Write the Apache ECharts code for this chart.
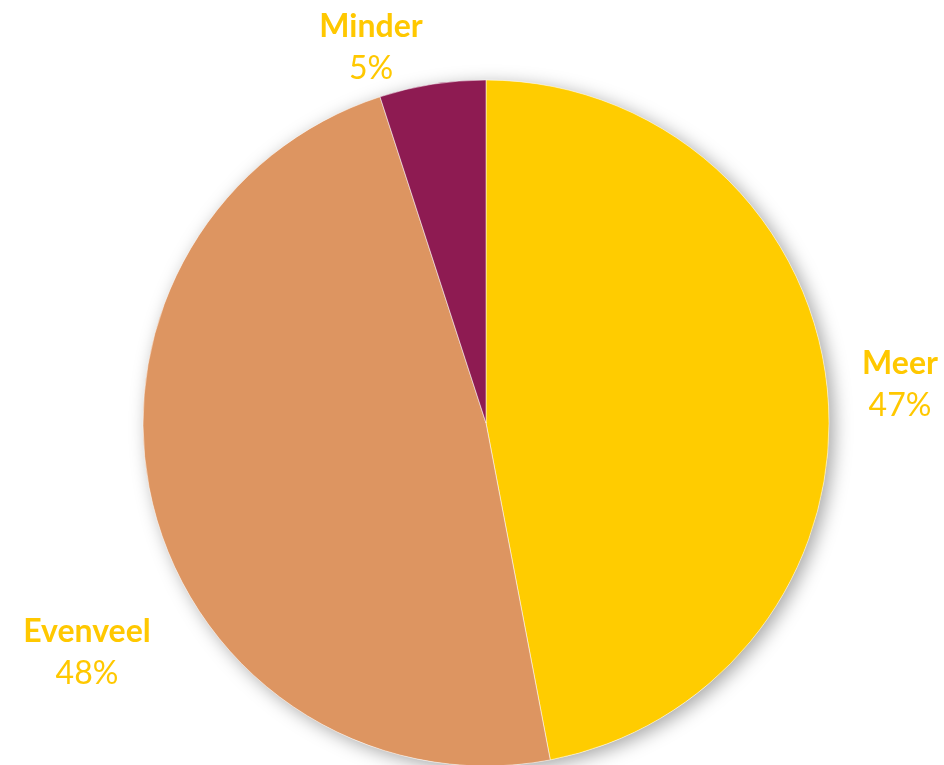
<!DOCTYPE html>
<html>
<head>
<meta charset="utf-8">
<script src="https://cdn.jsdelivr.net/npm/echarts@6/dist/echarts.min.js"></script>
<style>
  html, body { margin: 0; padding: 0; background: #fff; }
  #main { width: 944px; height: 765px; }
</style>
</head>
<body>
<div id="main"></div>
<script>
// categorieen en waarden
var categories = ['Meer', 'Evenveel', 'Minder'];
var values = [47, 48, 5];
var colors = ['#FFCC00', '#DD9561', '#8E1B52'];

var labelColor = '#FFC800';
var fontName = 'Lato';

// plek van de labels (midden van het tekstblok), zoals in Excel
var labelSpots = [[900, 385], [87, 653], [371, 48]];

var myChart = echarts.init(document.getElementById('main'));

var pieData = [];
for (var i = 0; i < categories.length; i++) {
    pieData.push({
        name: categories[i],
        value: values[i],
        itemStyle: { color: colors[i] }
    });
}

// totaal voor de schaduw-cirkel achter de taart
var total = 0;
for (var j = 0; j < values.length; j++) total += values[j];

var option = {
    animation: false,
    backgroundColor: '#fff',
    series: [
        {
            // schaduw
            type: 'pie',
            silent: true,
            center: [486, 423],
            radius: 343,
            z: 1,
            label: { show: false },
            labelLine: { show: false },
            data: [{ value: total, name: 'schaduw' }],
            itemStyle: {
                color: '#fff',
                shadowBlur: 18,
                shadowOffsetX: 5,
                shadowOffsetY: 4,
                shadowColor: 'rgba(0,0,0,0.35)'
            }
        },
        {
            type: 'pie',
            center: [486, 423],
            radius: 343,
            startAngle: 90,
            clockwise: true,
            z: 2,
            percentPrecision: 0,
            itemStyle: { borderColor: '#fff', borderWidth: 0.5 },
            label: {
                position: 'outside',
                overflow: 'none',
                formatter: '{n|{b}}\n{p|{d}%}',
                rich: {
                    n: { fontFamily: fontName, fontWeight: 'bold', fontSize: 32, color: labelColor, align: 'center', lineHeight: 42 },
                    p: { fontFamily: fontName, fontSize: 32, color: labelColor, align: 'center', lineHeight: 42 }
                }
            },
            labelLine: { show: false },
            labelLayout: function (params) {
                var s = labelSpots[params.dataIndex];
                return { x: s[0], y: s[1], align: 'center', verticalAlign: 'middle' };
            },
            data: pieData
        }
    ]
};

myChart.setOption(option);
</script>
</body>
</html>
